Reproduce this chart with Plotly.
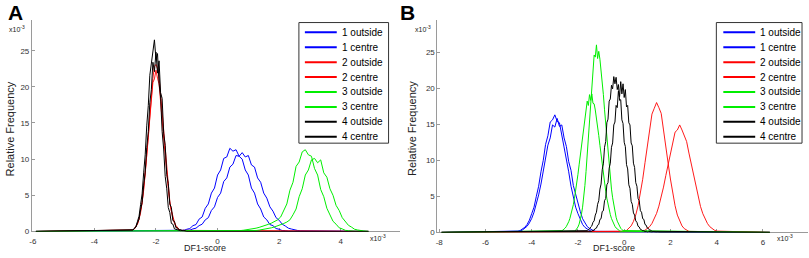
import plotly.graph_objects as go

# ---------------- data (x and y both in units of 1e-3) ----------------
SERIES_NAMES = ["1 outside", "1 centre", "2 outside", "2 centre",
                "3 outside", "3 centre", "4 outside", "4 centre"]
SERIES_COLORS = ["#0000ff", "#0000ff", "#ff0000", "#ff0000",
                 "#00ee00", "#00ee00", "#000000", "#000000"]

# Panel A: first bin centre and bin width of every series
A_START = [-1.3, -1.1, -2.8, -2.8, 0.45, 0.95, -2.75, -2.75]
A_STEP = [0.1, 0.1, 0.05, 0.05, 0.1, 0.1, 0.05, 0.05]

A_1_OUTSIDE = [0.05, 0.12, 0.1, 0.3, 0.4, 0.8, 0.95, 1.7, 2.0, 3.2,
               3.8, 5.3, 6.0, 7.8, 8.5, 10.1, 10.3, 11.5, 11.1, 11.3,
               10.4, 10.0, 8.5, 7.8, 6.0, 5.3, 3.8, 3.1, 2.0, 1.6,
               0.95, 0.8, 0.4, 0.3, 0.12, 0.1, 0.04]
A_1_CENTRE = [0.08, 0.15, 0.17, 0.35, 0.45, 0.8, 1.0, 1.6, 1.9, 2.9,
              3.4, 4.7, 5.3, 6.9, 7.4, 8.9, 9.3, 10.5, 10.4, 10.9,
              10.3, 10.5, 9.2, 8.9, 7.4, 6.8, 5.3, 4.6, 3.4, 2.8,
              1.9, 1.55, 1.0, 0.75, 0.45, 0.33, 0.18, 0.13, 0.06]
A_2_OUTSIDE = [0.09, 0.18, 0.33, 0.6, 1.0, 1.7, 2.6, 4.0, 5.8, 8.0,
               10.6, 13.6, 16.3, 19.2, 21.2, 22.8, 23.1, 22.5, 21.4, 19.0,
               16.5, 13.4, 10.7, 8.1, 5.9, 4.1, 2.9, 2.0, 1.3, 0.8,
               0.5, 0.3, 0.15]
A_2_CENTRE = [0.1, 0.2, 0.38, 0.66, 1.1, 1.75, 2.7, 4.0, 5.7, 7.8,
              10.3, 13.0, 15.7, 18.2, 20.6, 21.1, 22.3, 21.2, 20.4, 18.0,
              15.9, 12.8, 10.5, 7.6, 5.9, 3.9, 2.8, 1.7, 1.15, 0.62,
              0.4, 0.18, 0.1]
A_3_OUTSIDE = [0.03, 0.05, 0.08, 0.12, 0.17, 0.22, 0.28, 0.36, 0.45, 0.56,
               0.68, 0.82, 0.98, 1.15, 1.35, 1.6, 2.0, 2.9, 3.8, 5.7,
               6.8, 9.0, 9.6, 11.0, 11.3, 10.6, 10.4, 8.7, 7.8, 5.8,
               4.8, 3.2, 2.4, 1.4, 1.0, 0.5, 0.35, 0.15, 0.1, 0.05,
               0.03]
A_3_CENTRE = [0.04, 0.06, 0.09, 0.13, 0.18, 0.24, 0.31, 0.4, 0.5, 0.62,
              0.76, 0.92, 1.1, 1.3, 1.6, 2.3, 3.1, 4.8, 5.9, 7.8,
              8.5, 9.9, 10.1, 9.5, 9.9, 8.1, 7.5, 5.9, 5.0, 3.6,
              2.9, 1.9, 1.4, 0.85, 0.6, 0.3, 0.2, 0.1, 0.06]
A_4_OUTSIDE = [0.21, 0.45, 0.7, 1.4, 2.1, 3.7, 5.2, 8.1, 10.6, 14.6,
               17.4, 21.6, 23.3, 24.9, 26.5, 23.8, 24.6, 20.5, 18.6, 13.8,
               11.4, 7.6, 5.9, 3.3, 2.6, 1.1, 1.0, 0.35, 0.3, 0.15,
               0.2, 0.1, 0.12, 0.05, 0.03, 0.0]
A_4_CENTRE = [0.19, 0.4, 0.6, 1.2, 1.7, 3.0, 4.0, 6.4, 8.2, 11.6,
              13.8, 17.8, 19.6, 23.4, 22.1, 24.8, 21.9, 23.6, 19.2, 18.4,
              13.6, 11.9, 7.9, 6.6, 3.8, 3.3, 1.5, 1.4, 0.5, 0.5,
              0.2, 0.25, 0.1, 0.15, 0.05, 0.0]

# Panel B
B_START = [-4.6, -4.5, 0.0, 0.8, -2.75, -2.15, -1.6, -1.4]
B_STEP = [0.1, 0.1, 0.1, 0.1, 0.05, 0.05, 0.05, 0.05]

B_1_OUTSIDE = [0.15, 0.26, 0.44, 0.71, 1.1, 1.7, 2.6, 3.5, 5.0, 6.4,
               8.4, 10.0, 12.2, 13.4, 15.3, 15.6, 16.3, 15.4, 15.2, 13.5,
               12.2, 10.1, 8.4, 6.4, 5.0, 3.5, 2.6, 1.7, 1.1, 0.7,
               0.45, 0.26, 0.15]
B_1_CENTRE = [0.19, 0.33, 0.54, 0.85, 1.32, 1.94, 2.8, 3.86, 5.2, 6.7,
              8.4, 10.1, 12.1, 13.1, 14.9, 14.6, 15.8, 14.7, 14.9, 13.1,
              11.9, 9.8, 8.6, 6.5, 5.3, 3.7, 2.9, 1.9, 1.35, 0.82,
              0.55, 0.32, 0.19, 0.1]
B_2_OUTSIDE = [0.14, 0.27, 0.52, 0.9, 1.52, 2.42, 3.69, 5.33, 7.36, 9.67,
               12.06, 14.34, 16.4, 17.2, 18.0, 17.3, 16.5, 14.2, 12.2, 9.6,
               7.4, 5.3, 3.7, 2.4, 1.5, 0.9, 0.52, 0.27, 0.14]
B_2_CENTRE = [0.18, 0.31, 0.51, 0.8, 1.24, 1.83, 2.63, 3.64, 4.88, 6.28,
              7.88, 9.5, 11.1, 12.51, 13.9, 14.2, 14.9, 14.2, 13.4, 12.6,
              11.0, 9.5, 7.9, 6.3, 4.9, 3.6, 2.6, 1.8, 1.24, 0.8,
              0.51, 0.31, 0.18]
B_3_OUTSIDE = [0.15, 0.23, 0.32, 0.44, 0.61, 0.84, 1.12, 1.48, 1.92, 2.47,
               3.1, 3.84, 4.73, 5.72, 6.84, 8.06, 9.37, 10.7, 12.08, 13.43,
               14.73, 15.92, 16.97, 18.2, 17.6, 19.1, 18.3, 19.2, 17.9, 17.82,
               16.97, 15.92, 14.73, 13.43, 12.08, 10.7, 9.37, 8.06, 6.84, 5.72,
               4.73, 3.84, 3.1, 2.47, 1.92, 1.48, 1.12, 0.84, 0.61, 0.44,
               0.32, 0.23, 0.15]
B_3_CENTRE = [0.18, 0.29, 0.47, 0.75, 1.15, 1.7, 2.5, 3.5, 4.8, 6.5,
              8.45, 10.7, 13.2, 15.8, 18.4, 20.8, 22.9, 24.6, 24.3, 26.0,
              24.1, 25.1, 24.0, 22.6, 20.9, 19.1, 17.0, 15.0, 12.9, 10.9,
              9.1, 7.5, 6.0, 4.8, 3.7, 2.8, 2.1, 1.56, 1.14, 0.81,
              0.57, 0.39, 0.26]
B_4_OUTSIDE = [0.24, 0.4, 0.45, 0.75, 0.9, 1.4, 1.6, 2.4, 2.8, 3.9,
               4.4, 6.0, 6.7, 8.7, 9.5, 11.8, 12.6, 15.2, 15.7, 18.2,
               18.5, 20.4, 19.9, 21.6, 20.6, 21.5, 19.8, 20.5, 18.3, 18.4,
               15.6, 15.1, 12.5, 11.9, 9.4, 8.8, 6.6, 6.1, 4.3, 3.9,
               2.7, 2.4, 1.6, 1.4, 0.85, 0.75, 0.42, 0.38, 0.2, 0.25,
               0.1, 0.2, 0.05, 0.15, 0.1, 0.12, 0.04, 0.1, 0.06, 0.08,
               0.02, 0.05, 0.03, 0.0]
B_4_CENTRE = [0.16, 0.3, 0.3, 0.55, 0.6, 1.0, 1.1, 1.8, 1.9, 2.9,
              3.0, 4.4, 4.7, 6.6, 6.9, 8.9, 9.6, 11.8, 12.4, 14.9,
              15.3, 17.6, 17.3, 19.6, 18.8, 20.9, 19.2, 20.6, 18.7, 19.8,
              17.4, 17.6, 15.2, 14.9, 12.4, 12.0, 9.6, 9.0, 6.9, 6.4,
              4.7, 4.4, 3.0, 2.8, 1.9, 1.8, 1.1, 1.0, 0.6, 0.55,
              0.3, 0.3, 0.16]

A_VALUES = [A_1_OUTSIDE, A_1_CENTRE, A_2_OUTSIDE, A_2_CENTRE,
            A_3_OUTSIDE, A_3_CENTRE, A_4_OUTSIDE, A_4_CENTRE]
B_VALUES = [B_1_OUTSIDE, B_1_CENTRE, B_2_OUTSIDE, B_2_CENTRE,
            B_3_OUTSIDE, B_3_CENTRE, B_4_OUTSIDE, B_4_CENTRE]

# extent of the (empty) histogram range of each panel
A_EXTENT = [-5.9, 4.9]
B_EXTENT = [-7.9, 6.3]

A_X_TICKS = [-6, -4, -2, 0, 2, 4]
B_X_TICKS = [-8, -6, -4, -2, 0, 2, 4, 6]
Y_TICKS = [0, 5, 10, 15, 20, 25]

# ---------------- figure ----------------
W, H = 809, 258
FONT = "Liberation Sans"


def fx(px):
    return px / W


def fy(py):
    return 1 - py / H


fig = go.Figure()


def add_panel(values, starts, steps, extent, xa, ya):
    for i, vals in enumerate(values):
        xs = [round(starts[i] + steps[i] * k, 4) for k in range(len(vals))]
        xs = [extent[0]] + xs + [extent[1]]
        ys = [0.0] + list(vals) + [0.0]
        fig.add_trace(go.Scatter(
            x=xs, y=ys, mode="lines", name=SERIES_NAMES[i],
            line=dict(color=SERIES_COLORS[i],
                      width=0.9 if SERIES_COLORS[i] == "#ff0000" else 1.0),
            xaxis=xa, yaxis=ya, showlegend=False))


add_panel(A_VALUES, A_START, A_STEP, A_EXTENT, "x", "y")
add_panel(B_VALUES, B_START, B_STEP, B_EXTENT, "x2", "y2")

axis_style = dict(showline=True, linecolor="#9a9a9a", linewidth=1,
                  ticks="inside", ticklen=3, tickwidth=1, tickcolor="#9a9a9a",
                  showgrid=False, zeroline=False, layer="below traces",
                  tickfont=dict(family=FONT, size=8, color="#333333"))

fig.update_layout(
    width=W, height=H,
    margin=dict(l=0, r=0, t=0, b=0),
    paper_bgcolor="white", plot_bgcolor="white",
    showlegend=False,
    xaxis=dict(domain=[fx(29), fx(398)], range=[-6.03, 5.91], anchor="y",
               tickvals=A_X_TICKS, ticktext=[str(v) for v in A_X_TICKS],
               ticklabelstandoff=2, **axis_style),
    yaxis=dict(domain=[fy(236), fy(20)], range=[0, 29.3], anchor="x",
               tickvals=Y_TICKS, ticktext=[str(v) for v in Y_TICKS],
               **axis_style),
    xaxis2=dict(domain=[fx(436), fx(808)], range=[-8.08, 7.95], anchor="y2",
                tickvals=B_X_TICKS, ticktext=[str(v) for v in B_X_TICKS],
                ticklabelstandoff=2, **axis_style),
    yaxis2=dict(domain=[fy(237), fy(20)], range=[0, 29.5], anchor="x2",
                tickvals=Y_TICKS, ticktext=[str(v) for v in Y_TICKS],
                **axis_style),
)

annotations = []
shapes = []


def text(t, x, y, size, xanchor="center", angle=0, bold=False, color="#222222"):
    annotations.append(dict(
        text=("<b>%s</b>" % t) if bold else t, x=fx(x), y=fy(y),
        xref="paper", yref="paper", showarrow=False, xanchor=xanchor,
        yanchor="middle", textangle=angle, borderpad=0,
        font=dict(family=FONT, size=size, color=color)))


# panel letters
text("A", 13, 13, 21, bold=True, color="black")
text("B", 406, 13, 21, bold=True, color="black")
# axis titles
text("Relative Frequency", 7, 131, 11, angle=-90)
text("Relative Frequency", 411, 131, 11, angle=-90)
text("DF1-score", 203, 253, 9)
text("DF1-score", 613, 253, 9)
# exponent labels
EXP = "x10<sup>-3</sup>"
text(EXP, 14, 30, 7)
text(EXP, 422, 30, 7)
text(EXP, 376, 243, 7)
text(EXP, 785, 243, 7)

# legends (one per panel)
for (bx0, bx1, lx0, lx1, tx) in [(297, 387, 303, 335, 339),
                                 (716, 802, 723, 755, 759)]:
    shapes.append(dict(type="rect", xref="paper", yref="paper",
                       x0=fx(bx0), x1=fx(bx1), y0=fy(146), y1=fy(23),
                       line=dict(color="#333333", width=1),
                       fillcolor="white", layer="above"))
    for i, name in enumerate(SERIES_NAMES):
        yy = 33 + 15.2 * i
        shapes.append(dict(type="line", xref="paper", yref="paper",
                           x0=fx(lx0), x1=fx(lx1), y0=fy(yy), y1=fy(yy),
                           line=dict(color=SERIES_COLORS[i], width=2),
                           layer="above"))
        text(name, tx, yy, 10, xanchor="left", color="black")

fig.update_layout(annotations=annotations, shapes=shapes)

# the page body has a default 8px margin; remove it so the figure fills the window
fig.write_html("out.html",
               config={"displayModeBar": False},
               post_script="document.body.style.margin='0px';")
